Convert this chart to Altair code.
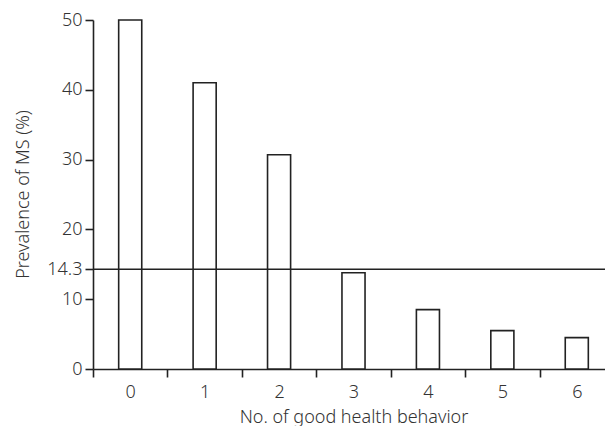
import altair as alt
import pandas as pd

categories = ["0", "1", "2", "3", "4", "5", "6"]
prevalence = [50.0, 41.0, 30.7, 13.8, 8.5, 5.5, 4.5]
reference_value = [14.3]
y_ticks = [0, 10, 14.3, 20, 30, 40, 50]

df = pd.DataFrame({"n": categories, "p": prevalence})
ref = pd.DataFrame({"r": reference_value})

FONT = "Noto Sans"
TXT = "#333333"
LINE = "#222222"

bars = alt.Chart(df).mark_bar(
    width=alt.RelativeBandSize(0.31), fill="white", stroke=LINE, strokeWidth=1.6
).encode(
    x=alt.X("n:N", sort=categories,
            scale=alt.Scale(paddingInner=0, paddingOuter=0, range=[0, 521]),
            axis=alt.Axis(title="No. of good health behavior", labelAngle=0,
                          tickBand="extent", tickSize=8, labelPadding=6,
                          titleY=53, titleBaseline="alphabetic",
                          domainColor=LINE, tickColor=LINE,
                          domainWidth=1.6, tickWidth=1.6)),
    y=alt.Y("p:Q", scale=alt.Scale(domain=[0, 50], nice=False, zero=True),
            axis=alt.Axis(title="Prevalence of MS (%)", values=y_ticks,
                          labelExpr="'' + datum.value",
                          tickSize=8, labelPadding=3, grid=False,
                          titleX=-65, titleY=174, titleAngle=-90,
                          titleAlign="center", titleBaseline="alphabetic",
                          domainColor=LINE, tickColor=LINE,
                          domainWidth=1.6, tickWidth=1.6)),
)

rule = alt.Chart(ref).mark_rule(color=LINE, strokeWidth=1.6).encode(
    y=alt.Y("r:Q"),
    x=alt.value(0),
    x2=alt.value(521),
)

chart = alt.layer(bars, rule).properties(
    width=512, height=349,
    autosize=alt.AutoSizeParams(type="none"),
    padding={"left": 85, "top": 12, "right": 0, "bottom": 57},
).configure_view(stroke=None).configure_axis(
    labelFont=FONT, titleFont=FONT, labelFontSize=18, titleFontSize=18,
    labelColor=TXT, titleColor=TXT, labelFontWeight=300, titleFontWeight=300,
)

chart.save("out.html", embed_options={"renderer": "svg", "actions": False})
